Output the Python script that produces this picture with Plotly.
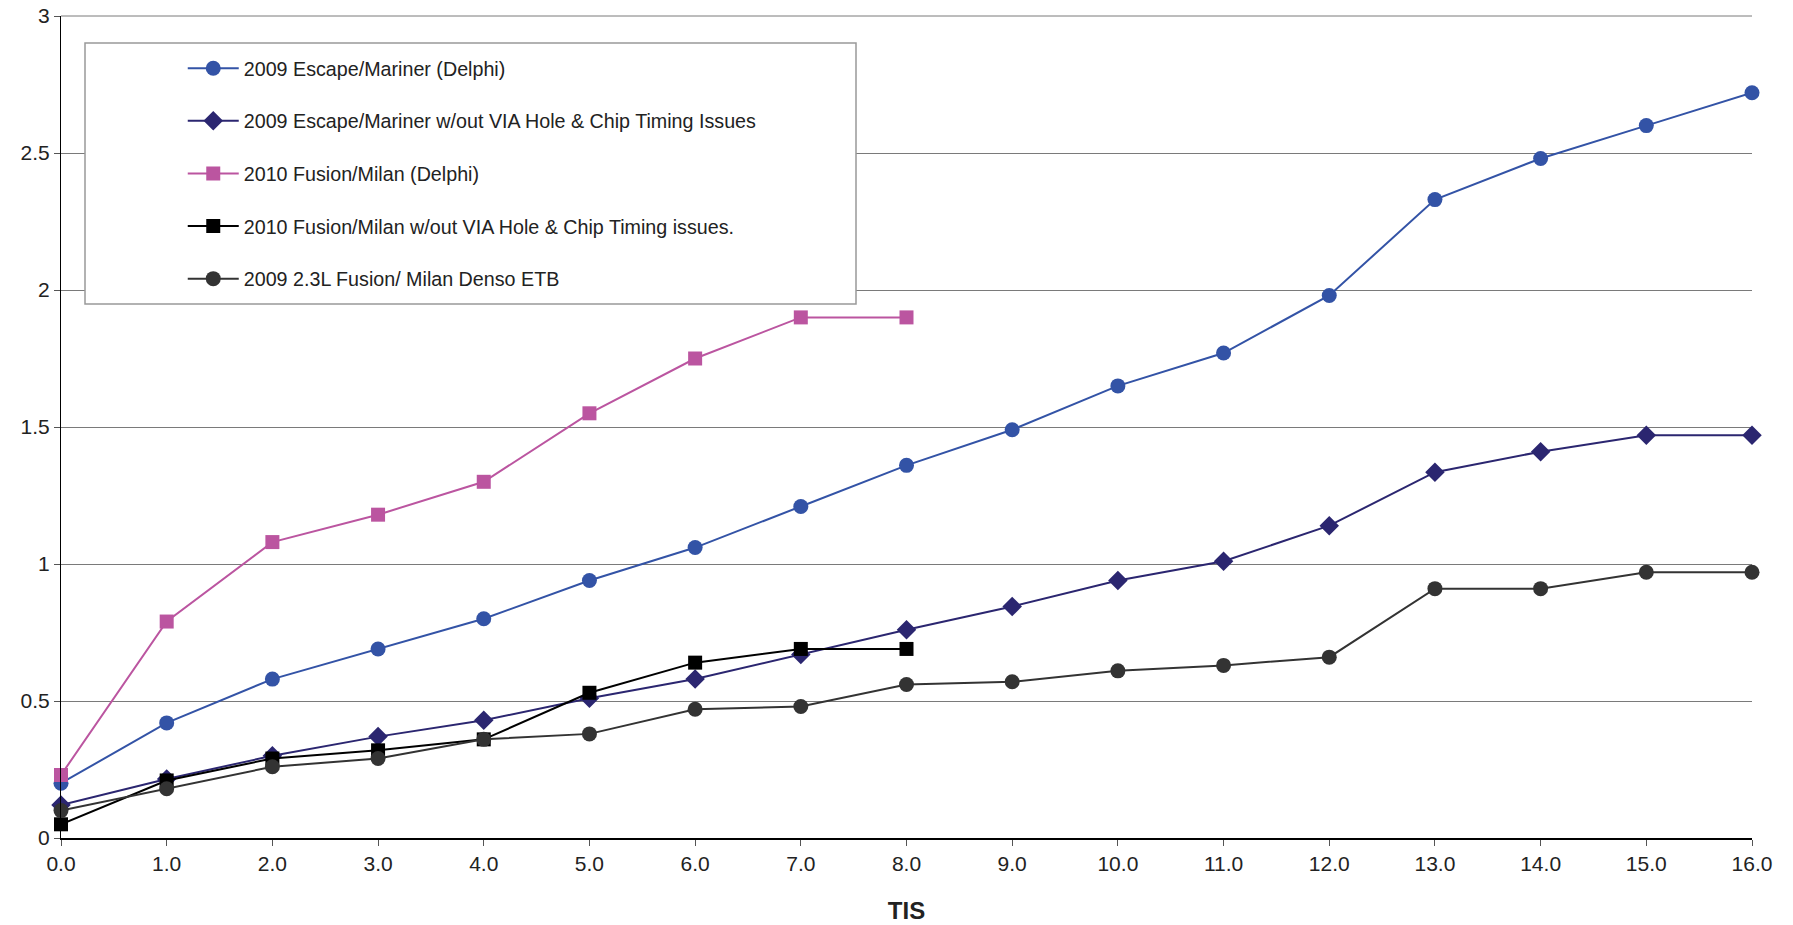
import plotly.graph_objects as go

tis = [0, 1, 2, 3, 4, 5, 6, 7, 8, 9, 10, 11, 12, 13, 14, 15, 16]
tis_short = [0, 1, 2, 3, 4, 5, 6, 7, 8]

escape_delphi = [0.20, 0.42, 0.58, 0.69, 0.80, 0.94, 1.06, 1.21, 1.36, 1.49, 1.65, 1.77, 1.98, 2.33, 2.48, 2.60, 2.72]
escape_wo = [0.12, 0.215, 0.30, 0.37, 0.43, 0.51, 0.58, 0.67, 0.76, 0.845, 0.94, 1.01, 1.14, 1.335, 1.41, 1.47, 1.47]
fusion_delphi = [0.23, 0.79, 1.08, 1.18, 1.30, 1.55, 1.75, 1.90, 1.90]
fusion_wo = [0.05, 0.21, 0.29, 0.32, 0.36, 0.53, 0.64, 0.69, 0.69]
fusion_denso = [0.10, 0.18, 0.26, 0.29, 0.36, 0.38, 0.47, 0.48, 0.56, 0.57, 0.61, 0.63, 0.66, 0.91, 0.91, 0.97, 0.97]

names = [
    "2009 Escape/Mariner (Delphi)",
    "2009 Escape/Mariner w/out VIA Hole & Chip Timing Issues",
    "2010 Fusion/Milan (Delphi)",
    "2010 Fusion/Milan w/out VIA Hole & Chip Timing issues.",
    "2009 2.3L Fusion/ Milan Denso ETB",
]
y_tickvals = [0, 0.5, 1, 1.5, 2, 2.5, 3]
y_ticktext = ["0", "0.5", "1", "1.5", "2", "2.5", "3"]

FONT = "Liberation Sans, Arial, sans-serif"
GRID = "#7a7a7a"

series = [
    (tis, escape_delphi, names[0], "#3353A6", "circle", 15),
    (tis, escape_wo, names[1], "#2B2670", "diamond", 15),
    (tis_short, fusion_delphi, names[2], "#BB55A0", "square", 14),
    (tis_short, fusion_wo, names[3], "#000000", "square", 14),
    (tis, fusion_denso, names[4], "#333333", "circle", 15),
]

fig = go.Figure()
for i, (x, y, name, color, sym, size) in enumerate(series):
    fig.add_trace(go.Scatter(
        x=x, y=y, name=name, mode="lines+markers",
        line=dict(color=color, width=2),
        marker=dict(color=color, symbol=sym, size=size),
        cliponaxis=False, legendgroup="g%d" % i,
    ))

fig.update_layout(
    width=1793, height=925,
    margin=dict(l=61, r=41, t=16, b=87),
    paper_bgcolor="white", plot_bgcolor="white",
    font=dict(family=FONT, size=20, color="#222222"),
    showlegend=True,
    legend=dict(
        x=0.072, y=0.960, xanchor="left", yanchor="top",
        bgcolor="rgba(0,0,0,0)", borderwidth=0,
        traceorder="grouped", tracegroupgap=24,
        itemwidth=51, font=dict(family=FONT, size=19.7, color="#222222"),
    ),
    shapes=[
        dict(
            type="line", xref="paper", yref="paper",
            x0=0, x1=1, y0=1, y1=1,
            line=dict(color=GRID, width=1), layer="below",
        ),
        dict(
            type="rect", xref="paper", yref="paper",
            x0=(85 - 61) / 1691, x1=(856 - 61) / 1691,
            y0=(838 - 304) / 822, y1=(838 - 43) / 822,
            fillcolor="white", line=dict(color="#999999", width=1.5),
            layer="above",
        ),
    ],
)

fig.update_xaxes(
    range=[0, 16], tickmode="array", tickvals=tis,
    ticktext=["%.1f" % v for v in tis],
    showgrid=False, zeroline=False, automargin=False,
    showline=True, linecolor="#000000", linewidth=2,
    ticks="outside", ticklen=6, tickcolor="#555555",
    tickfont=dict(family=FONT, size=21, color="#222222"),
    title=dict(text="<b>TIS</b>", font=dict(family=FONT, size=24, color="#222222"), standoff=28),
)
fig.update_yaxes(
    range=[0, 3], tickmode="array", tickvals=y_tickvals, ticktext=y_ticktext,
    showgrid=True, gridcolor=GRID, gridwidth=1, zeroline=False, automargin=False,
    showline=True, linecolor="#000000", linewidth=1,
    ticks="outside", ticklen=6, tickcolor="#555555",
    tickfont=dict(family=FONT, size=21, color="#222222"),
)

fig.write_html(
    "out.html",
    config={"displayModeBar": False},
    post_script="document.body.style.margin='0';document.body.style.overflow='hidden';",
)
